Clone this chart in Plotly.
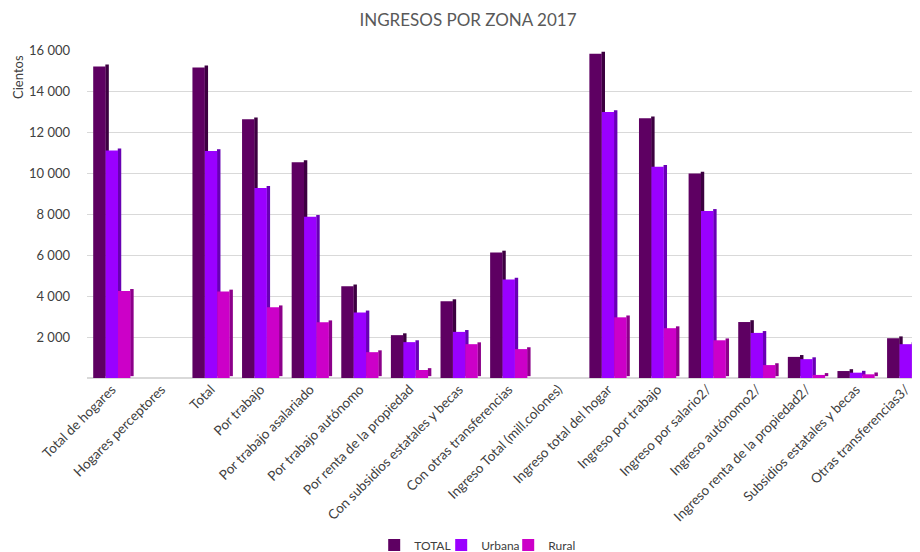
import plotly.graph_objects as go

categories = [
    'Total de hogares', 'Hogares perceptores', 'Total', 'Por trabajo',
    'Por trabajo asalariado', 'Por trabajo autónomo', 'Por renta de la propiedad',
    'Con subsidios estatales y becas', 'Con otras transferencias',
    'Ingreso Total (mill.colones)', 'Ingreso total del hogar', 'Ingreso por trabajo',
    'Ingreso por salario2/', 'Ingreso autónomo2/', 'Ingreso renta de la propiedad2/',
    'Subsidios estatales y becas', 'Otras transferencias3/'
]

total = [15200, None, 15150, 12620, 10530, 4470, 2090, 3750, 6120,
         None, 15820, 12670, 9970, 2730, 1030, 340, 1940]
urbana = [11100, None, 11070, 9270, 7860, 3200, 1750, 2250, 4800,
          None, 12970, 10300, 8150, 2200, 920, 260, 1650]
rural = [4250, None, 4220, 3450, 2720, 1260, 390, 1650, 1410,
         None, 2960, 2430, 1840, 630, 150, 180, 340]

y_ticks = [2000, 4000, 6000, 8000, 10000, 12000, 14000, 16000]

# nombre, valores, color frontal, color lateral
series = [
    ('TOTAL', total, '#5e0062', '#3c0040'),
    ('Urbana', urbana, '#9a00ff', '#6800b4'),
    ('Rural', rural, '#cc00c8', '#8c008a'),
]

slot = 0.25      # ancho de cada barra (unidades de categoría)
side = 0.07      # cara lateral simulada (efecto 3D)
lift = 90        # desplazamiento vertical de la cara lateral

fig = go.Figure()

# caras laterales (detrás)
for i, (name, vals, color, dark) in enumerate(series):
    fig.add_trace(go.Bar(
        x=categories, y=vals, base=lift,
        offset=-0.375 + slot * (i + 1) - 0.005, width=side,
        marker=dict(color=dark, line=dict(width=0)),
        showlegend=False, hoverinfo='skip',
    ))

# caras frontales
for i, (name, vals, color, dark) in enumerate(series):
    fig.add_trace(go.Bar(
        x=categories, y=vals, name=name,
        offset=-0.375 + slot * i, width=slot,
        marker=dict(color=color, line=dict(width=0)),
    ))

# título del eje Y arriba a la izquierda, como en Excel
fig.add_annotation(
    text='Cientos', textangle=-90,
    xref='paper', yref='paper', x=-0.082, y=0.918,
    xanchor='center', yanchor='middle', showarrow=False,
    font=dict(size=13, color='#404040'),
)

fig.update_layout(
    title=dict(text='INGRESOS POR ZONA 2017', x=0.5, xanchor='center',
               yref='container', y=0.978, yanchor='middle',
               font=dict(size=17, color='#595959')),
    barmode='overlay',
    separators=', ',
    width=920,
    height=552,
    paper_bgcolor='white',
    plot_bgcolor='white',
    font=dict(family='Lato, Open Sans, sans-serif', size=12, color='#404040'),
    margin=dict(l=79, r=0, t=42, b=182, autoexpand=False),
    xaxis=dict(
        automargin=False,
        tickangle=-45,
        range=[-0.5, 16.45],
        showgrid=False,
        showline=False,
        ticks='',
        tickfont=dict(size=13.5, color='#404040'),
    ),
    yaxis=dict(
        automargin=False,
        range=[0, 16000],
        tickvals=y_ticks,
        tickformat=',d',
        showgrid=True,
        gridcolor='#d9d9d9',
        gridwidth=1,
        zeroline=True,
        zerolinecolor='#d9d9d9',
        showline=False,
        ticks='',
        ticklabelstandoff=16,
        tickfont=dict(size=13, color='#404040'),
    ),
    legend=dict(orientation='h', x=0.461, xanchor='center', y=-0.509, yanchor='middle',
                font=dict(size=12, color='#404040'),
                itemwidth=30, entrywidth=22, entrywidthmode='pixels'),
)

fig.write_html('out.html')
